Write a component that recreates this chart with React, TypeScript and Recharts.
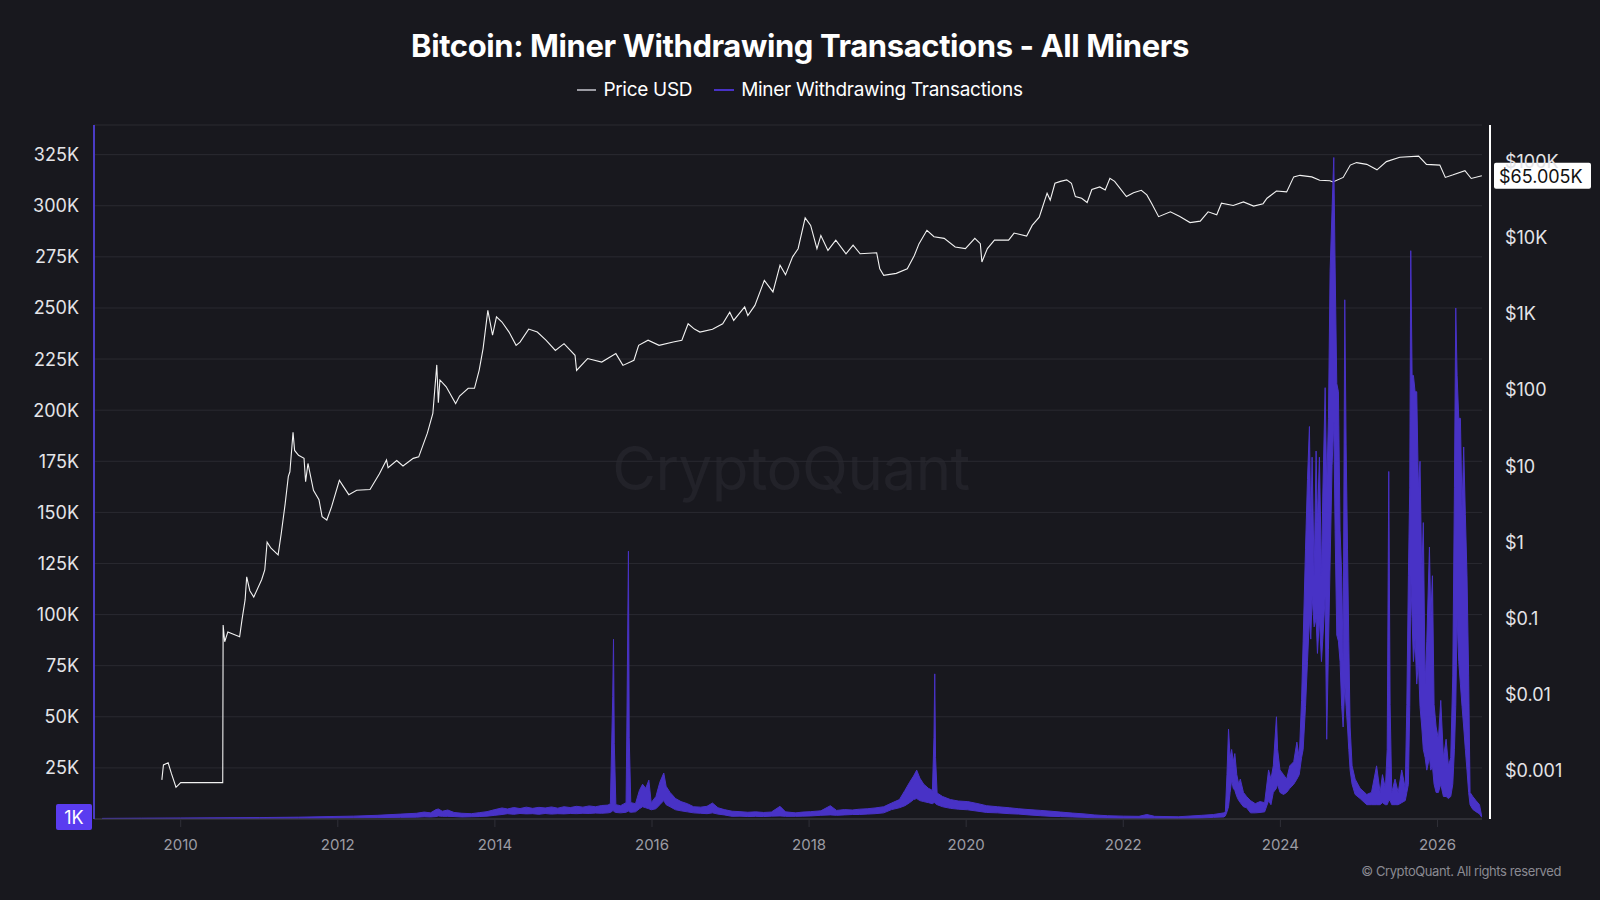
import React from 'react';
import { ComposedChart, Line, Area, XAxis, YAxis, CartesianGrid, ReferenceLine } from 'recharts';

// ---------- DATA ----------
// Price USD [year, price]
const priceEarly: [number, number][] = [
  [2009.76, 0.00075], [2009.78, 0.00118], [2009.84, 0.00126], [2009.88, 0.00092], [2009.94, 0.0006],
  [2010.0, 0.00069], [2010.535, 0.00069], [2010.54, 0.0815], [2010.56, 0.049], [2010.6, 0.066],
  [2010.75, 0.057], [2010.78, 0.095], [2010.82, 0.175], [2010.84, 0.35], [2010.88, 0.23],
  [2010.93, 0.19], [2011.03, 0.32], [2011.07, 0.43], [2011.1, 1.0], [2011.15, 0.83],
  [2011.24, 0.68], [2011.28, 1.3], [2011.33, 3.2], [2011.37, 7.3], [2011.39, 8.4],
  [2011.43, 27.7], [2011.45, 16], [2011.5, 13.8], [2011.57, 12.6], [2011.59, 6.2],
  [2011.62, 10.8], [2011.69, 4.8], [2011.76, 3.6], [2011.8, 2.16], [2011.86, 1.95],
  [2011.92, 2.9], [2012.02, 6.5], [2012.07, 5.4], [2012.14, 4.2], [2012.24, 4.8],
  [2012.41, 4.9], [2012.53, 7.9], [2012.62, 12], [2012.64, 9.5], [2012.75, 11.8], [2012.83, 10],
  [2012.96, 12.6], [2013.03, 13.2], [2013.14, 27], [2013.21, 49], [2013.26, 213],
  [2013.28, 68], [2013.3, 135], [2013.38, 110], [2013.5, 66], [2013.55, 83],
  [2013.66, 105], [2013.74, 105], [2013.8, 182], [2013.85, 352], [2013.91, 1110],
  [2013.97, 525], [2014.02, 910],
];
const priceMid: [number, number][] = [
  [2014.09, 780], [2014.18, 575], [2014.27, 385], [2014.32, 425], [2014.43, 630],
  [2014.54, 575], [2014.65, 450], [2014.77, 330], [2014.88, 405], [2015.02, 285],
  [2015.04, 180], [2015.18, 258], [2015.36, 232], [2015.54, 300], [2015.63, 210],
  [2015.77, 245], [2015.83, 385], [2015.95, 450], [2016.09, 385], [2016.27, 425],
  [2016.38, 450], [2016.46, 740], [2016.54, 630], [2016.61, 575], [2016.77, 625],
  [2016.9, 740], [2016.99, 1050], [2017.04, 820], [2017.18, 1230], [2017.22, 950],
  [2017.31, 1290], [2017.43, 2750], [2017.54, 1940], [2017.63, 4350], [2017.7, 3250],
  [2017.79, 5600], [2017.86, 7160], [2017.95, 18200], [2018.02, 14500], [2018.1, 7160],
  [2018.15, 10700], [2018.24, 6800], [2018.34, 9300], [2018.47, 6150], [2018.56, 8000],
  [2018.65, 6150], [2018.86, 6350], [2018.9, 3900], [2018.95, 3200], [2019.11, 3400],
  [2019.25, 3900], [2019.34, 5850], [2019.4, 8350], [2019.5, 12500], [2019.59, 10300],
  [2019.72, 9800], [2019.86, 7550], [2019.99, 7200], [2020.11, 9800], [2020.18, 8350],
  [2020.2, 4800], [2020.27, 7200], [2020.36, 9300],
];
const priceRecent: [number, number][] = [
  [2020.54, 9300], [2020.61, 11500], [2020.77, 10500], [2020.84, 14500], [2020.93, 18600],
  [2020.96, 23100], [2021.03, 38500], [2021.07, 31200], [2021.13, 51900], [2021.2, 55000],
  [2021.28, 57500], [2021.34, 52000], [2021.39, 34700], [2021.47, 33000], [2021.54, 29000],
  [2021.6, 43000], [2021.7, 46500], [2021.77, 42300], [2021.83, 60500], [2021.89, 55000],
  [2022.04, 34700], [2022.13, 39000], [2022.23, 42000], [2022.3, 36500], [2022.36, 28400],
  [2022.45, 18900], [2022.6, 21900], [2022.72, 19000], [2022.85, 15800], [2022.98, 16500],
  [2023.08, 21900], [2023.19, 20000], [2023.25, 28400], [2023.4, 26500], [2023.53, 29500],
  [2023.66, 26000], [2023.78, 28000], [2023.83, 33000], [2023.95, 41000], [2024.08, 40000],
  [2024.17, 63000], [2024.25, 66000], [2024.4, 63000], [2024.5, 57000], [2024.63, 56000],
  [2024.67, 54000], [2024.8, 62000], [2024.89, 90000], [2024.97, 97000], [2025.1, 92000],
  [2025.23, 78000], [2025.35, 100000], [2025.52, 114000], [2025.76, 118000], [2025.86, 92000],
  [2026.03, 90000], [2026.1, 62000], [2026.2, 67000], [2026.35, 76000], [2026.43, 60000],
  [2026.565, 65005],
];

// Miner Withdrawing Transactions [year, daily low (K), daily high (K)]
const minerEarly: [number, number, number][] = [
  [2009.0, 0.0, 0.3], [2009.5, 0.1, 0.4], [2010.0, 0.2, 0.5], [2010.5, 0.2, 0.6],
  [2011.0, 0.3, 0.7], [2011.5, 0.4, 0.9], [2011.9, 0.5, 1.2], [2012.2, 0.6, 1.4],
  [2012.5, 0.7, 1.8], [2012.8, 0.8, 2.4], [2013.0, 0.9, 2.8], [2013.1, 1.1, 3.4],
  [2013.18, 1.0, 3.0], [2013.25, 1.2, 4.6], [2013.28, 1.5, 4.9], [2013.33, 1.3, 3.8],
  [2013.4, 1.3, 4.4], [2013.48, 1.2, 3.2], [2013.58, 1.0, 2.8], [2013.7, 1.1, 2.6],
  [2013.8, 1.2, 3.1], [2013.9, 1.4, 3.6], [2014.0, 1.8, 4.6], [2014.09, 2.2, 5.4],
  [2014.16, 2.6, 4.9], [2014.24, 2.3, 5.6], [2014.32, 2.7, 5.1], [2014.4, 2.5, 5.8],
  [2014.48, 2.6, 5.2], [2014.56, 2.3, 5.7], [2014.64, 2.7, 5.4], [2014.72, 2.4, 5.9],
  [2014.8, 2.6, 5.3], [2014.88, 2.5, 6.0], [2014.96, 2.7, 5.6], [2015.04, 2.6, 6.2],
  [2015.12, 2.8, 5.8], [2015.2, 2.7, 6.4], [2015.28, 2.9, 6.0], [2015.36, 2.8, 6.6],
  [2015.44, 3.0, 6.8],
];
const minerMid: [number, number, number][] = [
  [2015.47, 3.2, 7.5], [2015.5, 4.0, 60], [2015.51, 4.0, 87.9], [2015.52, 3.5, 37],
  [2015.54, 3.2, 7.0], [2015.6, 3.0, 6.5], [2015.67, 3.3, 8.0], [2015.68, 3.5, 45],
  [2015.7, 4.0, 131], [2015.71, 3.5, 40], [2015.73, 3.3, 8.0], [2015.79, 3.5, 7.5],
  [2015.84, 5.0, 14], [2015.88, 6.0, 17], [2015.92, 5.5, 15], [2015.96, 5.0, 19],
  [2015.99, 4.5, 8.0], [2016.05, 5.0, 11], [2016.1, 7.0, 18], [2016.15, 9.0, 22.5],
  [2016.18, 7.0, 16], [2016.23, 6.0, 13], [2016.3, 4.5, 10], [2016.37, 4.0, 8.5],
  [2016.45, 3.5, 7.5], [2016.53, 3.0, 6.0], [2016.62, 2.8, 5.8], [2016.7, 2.6, 6.2],
  [2016.77, 3.0, 7.8], [2016.84, 2.4, 5.5], [2016.92, 2.0, 4.6], [2017.02, 1.3, 3.8],
  [2017.12, 1.4, 3.6], [2017.22, 1.2, 3.3], [2017.32, 1.3, 3.5], [2017.42, 1.2, 3.2],
  [2017.52, 1.4, 3.4], [2017.63, 1.5, 6.2], [2017.7, 1.3, 3.5], [2017.83, 1.3, 3.0],
  [2017.92, 1.4, 3.4], [2018.02, 1.5, 3.6], [2018.15, 1.8, 4.0], [2018.27, 2.0, 6.5],
  [2018.35, 1.8, 4.2], [2018.45, 2.0, 4.6], [2018.55, 2.2, 4.4], [2018.64, 2.2, 4.8],
  [2018.74, 2.4, 5.0], [2018.84, 2.6, 5.4], [2018.95, 3.0, 6.0], [2019.05, 4.6, 7.8],
  [2019.15, 5.5, 9.5], [2019.22, 6.5, 14], [2019.28, 8.0, 18], [2019.33, 9.5, 21],
  [2019.37, 10, 23.9], [2019.41, 9.0, 20], [2019.46, 8.5, 17], [2019.52, 8.0, 15],
  [2019.57, 7.5, 14], [2019.59, 8.0, 40], [2019.6, 8.0, 71], [2019.61, 7.5, 30],
  [2019.63, 7.0, 12.7], [2019.7, 6.0, 11], [2019.8, 5.2, 9.5], [2019.9, 4.8, 8.8],
  [2020.02, 4.5, 8.5], [2020.15, 3.8, 7.5], [2020.26, 3.2, 6.5], [2020.4, 3.0, 6.0],
  [2020.55, 2.6, 5.5], [2020.67, 2.4, 5.0], [2020.8, 2.0, 4.6], [2020.95, 1.6, 4.2],
  [2021.08, 1.3, 3.8], [2021.2, 1.2, 3.4], [2021.35, 1.0, 2.9], [2021.5, 0.8, 2.5],
  [2021.63, 0.6, 2.0],
];
const minerRecent: [number, number, number][] = [
  [2021.8, 0.5, 1.6], [2022.0, 0.4, 1.4], [2022.2, 0.4, 1.3], [2022.3, 0.4, 2.2],
  [2022.4, 0.4, 1.3], [2022.7, 0.3, 1.1], [2023.0, 0.5, 1.8], [2023.15, 0.8, 2.2],
  [2023.28, 1.0, 3.0], [2023.3, 1.5, 3.6], [2023.32, 3.5, 21.7], [2023.34, 6.0, 44],
  [2023.36, 13, 30], [2023.38, 19, 34], [2023.4, 15, 28], [2023.42, 14, 32],
  [2023.445, 11, 21.7], [2023.47, 9, 17], [2023.49, 8, 19.5], [2023.53, 6, 13],
  [2023.57, 5.5, 11], [2023.62, 3.0, 9], [2023.68, 3.0, 7.5], [2023.74, 3.2, 8.5],
  [2023.8, 3.5, 8], [2023.85, 9, 24], [2023.88, 7, 19.5], [2023.91, 13, 26],
  [2023.95, 15, 50], [2023.965, 17, 34], [2023.995, 13, 24], [2024.04, 12, 21.7],
  [2024.08, 13, 19.5], [2024.12, 15, 26], [2024.17, 17, 28], [2024.21, 19.5, 37.6],
  [2024.24, 21.7, 30], [2024.27, 30, 58], [2024.29, 34, 87], [2024.32, 55, 132],
  [2024.345, 77, 166], [2024.37, 98, 192], [2024.387, 88, 141], [2024.404, 109, 177],
  [2024.43, 94, 119], [2024.455, 98, 180], [2024.472, 81, 145], [2024.497, 98, 177],
  [2024.523, 77, 119], [2024.54, 88, 158], [2024.57, 109, 211], [2024.59, 39, 162],
  [2024.612, 83, 196], [2024.633, 125, 268], [2024.658, 173, 298], [2024.68, 194, 323.6],
  [2024.697, 141, 270], [2024.718, 90, 213], [2024.739, 87, 209], [2024.76, 77, 141],
  [2024.781, 55, 119], [2024.799, 45, 77], [2024.82, 66, 254], [2024.837, 55, 183],
  [2024.855, 45, 132], [2024.871, 34, 87], [2024.888, 23.9, 45], [2024.913, 17, 26],
  [2024.952, 12, 19.5], [2025.015, 10, 15], [2025.1, 7, 12], [2025.16, 7, 13],
  [2025.225, 7, 26], [2025.27, 7, 13], [2025.3, 8, 21.7], [2025.337, 7, 15],
  [2025.36, 7, 34], [2025.38, 9, 170], [2025.397, 9, 56], [2025.418, 7, 13],
  [2025.46, 7, 19.5], [2025.5, 7, 13], [2025.545, 8, 24], [2025.59, 9, 15],
  [2025.61, 13, 56], [2025.63, 17, 119], [2025.647, 55, 162], [2025.66, 119, 278],
  [2025.677, 98, 217], [2025.694, 77, 217], [2025.715, 88, 209], [2025.736, 66, 209],
  [2025.757, 77, 162], [2025.778, 55, 175], [2025.8, 45, 119], [2025.82, 34, 145],
  [2025.843, 30, 66], [2025.864, 23.9, 87], [2025.898, 30, 133], [2025.915, 23.9, 98],
  [2025.936, 26, 119], [2025.957, 17, 56], [2025.983, 13, 45], [2026.012, 13, 39],
  [2026.042, 17, 58], [2026.076, 11, 30], [2026.11, 11, 39], [2026.14, 10, 26],
  [2026.169, 11, 30], [2026.195, 17, 70], [2026.216, 34, 162], [2026.233, 55, 250],
  [2026.25, 98, 217], [2026.271, 77, 196], [2026.292, 66, 196], [2026.313, 55, 151],
  [2026.334, 45, 182], [2026.355, 34, 149], [2026.376, 23.9, 119], [2026.397, 13, 70],
  [2026.415, 7, 13], [2026.45, 4.7, 11], [2026.49, 3.6, 9], [2026.535, 2.5, 7],
  [2026.565, 0.8, 1.0],
];

const yearTicks = [2010, 2012, 2014, 2016, 2018, 2020, 2022, 2024, 2026];
const minerTicks = [25000, 50000, 75000, 100000, 125000, 150000, 175000, 200000, 225000, 250000, 275000, 300000, 325000];
const priceTicks = [0.001, 0.01, 0.1, 1, 10, 100, 1000, 10000, 100000];

const TITLE = 'Bitcoin: Miner Withdrawing Transactions - All Miners';
const PRICE_NAME = 'Price USD';
const MINER_NAME = 'Miner Withdrawing Transactions';

// ---------- STYLE ----------
const BG = '#18181e';
const PURPLE = '#4832c6';
const FONT = 'Inter, "Noto Sans", sans-serif';

const priceData = [...priceEarly, ...priceMid, ...priceRecent].map(([t, p]) => ({ t, price: p }));
const minerData = [...minerEarly, ...minerMid, ...minerRecent].map(([t, lo, hi]) => ({
  t,
  range: [lo * 1000, hi * 1000],
}));
const lastMiner = minerRecent[minerRecent.length - 1][2] * 1000;
const lastPrice = priceRecent[priceRecent.length - 1][1];

const fmtK = (v: number) => `${v / 1000}K`;
const fmtUsd = (v: number) => (v >= 1000 ? `$${v / 1000}K` : `$${v}`);

const LeftTick = (p: any) => (
  <text x={p.x - 15} y={p.y} textAnchor="end" dominantBaseline="central" fill="#e4e4e8" fontSize={18} fontFamily={FONT}>
    {fmtK(p.payload.value)}
  </text>
);
const RightTick = (p: any) => (
  <text x={p.x + 23} y={p.y} textAnchor="start" dominantBaseline="central" fill="#e4e4e8" fontSize={18} fontFamily={FONT}>
    {fmtUsd(p.payload.value)}
  </text>
);
const BottomTick = (p: any) => (
  <text x={p.x} y={p.y + 17} textAnchor="middle" dominantBaseline="central" fill="#9c9ca4" fontSize={15} fontFamily={FONT}>
    {p.payload.value}
  </text>
);

const MinerTag = (p: any) => {
  const { x, y } = p.viewBox;
  return (
    <g>
      <rect x={x - 38} y={y - 13} width={36} height={26} rx={2} fill="#5a3cf0" />
      <text x={x - 20} y={y + 1} textAnchor="middle" dominantBaseline="central" fill="#fff" fontSize={18} fontFamily={FONT}>
        {`${Math.round(lastMiner / 1000)}K`}
      </text>
    </g>
  );
};
const PriceTag = (p: any) => {
  const { x, y, width } = p.viewBox;
  const x0 = x + width + 12;
  return (
    <g>
      <rect x={x0} y={y - 13} width={97} height={26} rx={2} fill="#ffffff" />
      <text x={x0 + 5} y={y + 1} textAnchor="start" dominantBaseline="central" fill="#111" fontSize={18} fontFamily={FONT}>
        {`$${(lastPrice / 1000).toFixed(3)}K`}
      </text>
    </g>
  );
};

export default function App() {
  return (
    <div style={{ position: 'absolute', left: 0, top: 0, width: 1600, height: 900, background: BG, overflow: 'hidden', fontFamily: FONT }}>
      <div style={{ position: 'absolute', left: 0, width: 1600, top: 432, textAlign: 'center', fontSize: 60, color: '#222229', letterSpacing: -0.5 }}>
        <span style={{ marginLeft: -18 }}>CryptoQuant</span>
      </div>
      <div style={{ position: 'absolute', left: 0, width: 1600, top: 26, textAlign: 'center', fontSize: 31, fontWeight: 700, color: '#ffffff', letterSpacing: -0.4, lineHeight: '40px' }}>
        {TITLE}
      </div>
      <div style={{ position: 'absolute', left: 0, width: 1600, top: 78, display: 'flex', justifyContent: 'center', fontSize: 19, color: '#ffffff', lineHeight: '24px', letterSpacing: -0.3 }}>
        <span style={{ display: 'flex', alignItems: 'center', marginRight: 22 }}>
          <span style={{ display: 'inline-block', width: 19, height: 2, background: '#9a9aa2', marginRight: 7 }} />
          {PRICE_NAME}
        </span>
        <span style={{ display: 'flex', alignItems: 'center' }}>
          <span style={{ display: 'inline-block', width: 20, height: 2, background: PURPLE, marginRight: 7 }} />
          {MINER_NAME}
        </span>
      </div>
      <div style={{ position: 'absolute', left: 0, top: 0 }}>
        <ComposedChart width={1600} height={900} margin={{ top: 125, right: 0, bottom: 0, left: 0 }}>
          <CartesianGrid yAxisId="left" vertical={false} stroke="#2a2a31" strokeWidth={1} />
          <XAxis
            dataKey="t"
            type="number"
            domain={[2008.896, 2026.567]}
            allowDataOverflow
            ticks={yearTicks}
            height={81}
            axisLine={{ stroke: '#3c3c45', strokeWidth: 1 }}
            tickLine={{ stroke: '#303038' }}
            tickSize={8}
            tickMargin={0}
            tick={<BottomTick />}
          />
          <YAxis
            yAxisId="left"
            type="number"
            domain={[0, 339500]}
            allowDataOverflow
            ticks={minerTicks}
            width={94}
            axisLine={{ stroke: '#4a3bc4', strokeWidth: 2 }}
            tickLine={false}
            tickSize={0}
            tickMargin={0}
            tick={<LeftTick />}
          />
          <YAxis
            yAxisId="right"
            orientation="right"
            type="number"
            scale="log"
            domain={[0.0002298, 302700]}
            allowDataOverflow
            ticks={priceTicks}
            width={118}
            axisLine={{ stroke: '#ffffff', strokeWidth: 2, transform: 'translate(8,0)' }}
            tickLine={false}
            tickSize={0}
            tickMargin={0}
            tick={<RightTick />}
          />
          <Line
            yAxisId="right"
            data={priceData}
            dataKey="price"
            type="linear"
            stroke="#f2f2f2"
            strokeWidth={1.1}
            dot={false}
            activeDot={false}
            isAnimationActive={false}
          />
          <Area
            yAxisId="left"
            data={minerData}
            dataKey="range"
            type="linear"
            stroke={PURPLE}
            strokeWidth={1}
            fill={PURPLE}
            fillOpacity={1}
            dot={false}
            activeDot={false}
            isAnimationActive={false}
            zIndex={450}
          />
          <ReferenceLine yAxisId="left" y={lastMiner} stroke="none" label={<MinerTag />} />
          <ReferenceLine yAxisId="right" y={lastPrice} stroke="none" label={<PriceTag />} />
        </ComposedChart>
      </div>
      <div style={{ position: 'absolute', right: 39, top: 863, fontSize: 13, color: '#8a8a92', letterSpacing: -0.4 }}>
        © CryptoQuant. All rights reserved
      </div>
    </div>
  );
}
